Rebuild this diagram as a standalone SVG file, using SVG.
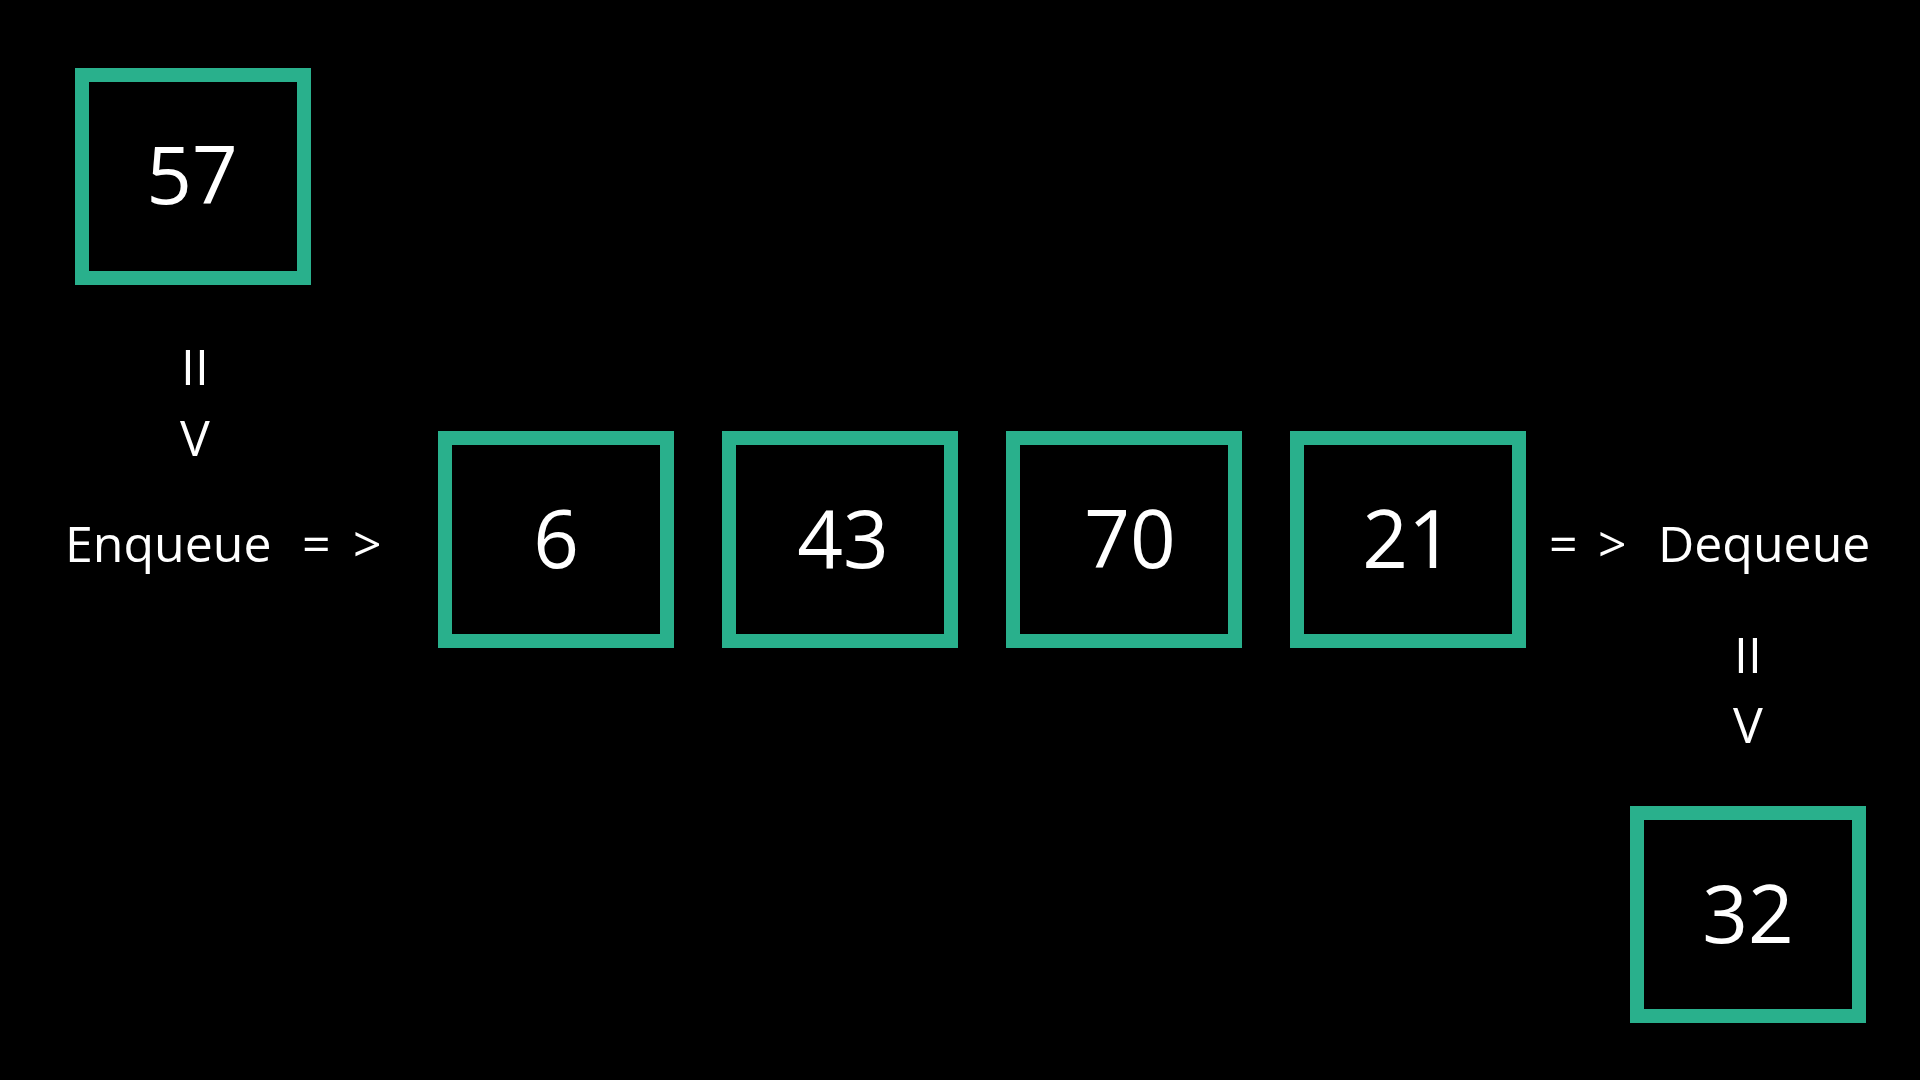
<svg xmlns="http://www.w3.org/2000/svg" width="1920" height="1080" viewBox="0 0 1920 1080">
<style>
.box{fill:#000;stroke:#29B08C;stroke-width:14}
.num{font-family:"Open Sans","Liberation Sans",sans-serif;font-size:80px;fill:#fff;text-anchor:middle}
.lbl{font-family:"Open Sans","Liberation Sans",sans-serif;font-size:50px;fill:#fff}
.mid{text-anchor:middle}
</style>
<rect x="0" y="0" width="1920" height="1080" fill="#000"/>
<g id="node-57"><rect class="box" x="82" y="75" width="222" height="203"/><text class="num" x="192" y="204">57</text></g>
<g id="node-6"><rect class="box" x="445" y="438" width="222" height="203"/><text class="num" x="556" y="568">6</text></g>
<g id="node-43"><rect class="box" x="729" y="438" width="222" height="203"/><text class="num" x="843" y="568">43</text></g>
<g id="node-70"><rect class="box" x="1013" y="438" width="222" height="203"/><text class="num" x="1130" y="568">70</text></g>
<g id="node-21"><rect class="box" x="1297" y="438" width="222" height="203"/><text class="num" x="1408" y="568">21</text></g>
<g id="node-32"><rect class="box" x="1637" y="813" width="222" height="203"/><text class="num" x="1748" y="943">32</text></g>
<g id="connectors">
<text class="lbl mid" x="195" y="385">II</text>
<text class="lbl mid" x="195" y="456">V</text>
<text class="lbl" y="562"><tspan x="65">Enqueue</tspan><tspan x="302">=</tspan><tspan x="353">&gt;</tspan></text>
<text class="lbl" y="562"><tspan x="1549">=</tspan><tspan x="1598">&gt;</tspan><tspan x="1658">Dequeue</tspan></text>
<text class="lbl mid" x="1748" y="673">II</text>
<text class="lbl mid" x="1748" y="743">V</text>
</g>
</svg>
